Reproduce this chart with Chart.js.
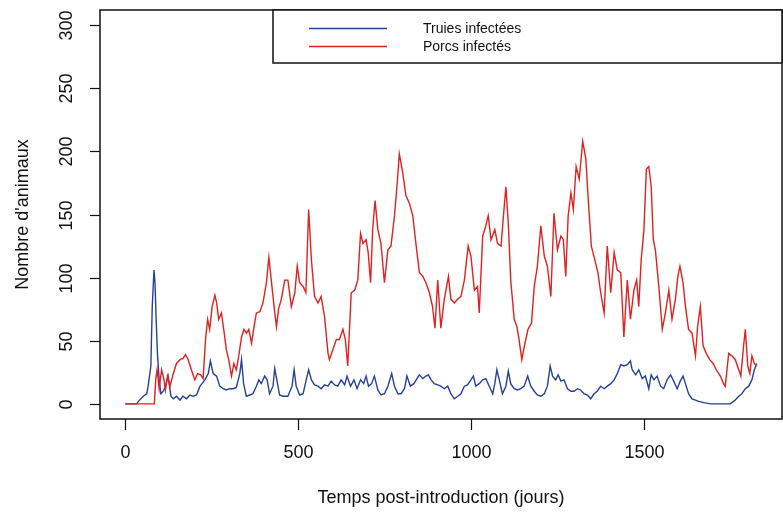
<!DOCTYPE html>
<html>
<head>
<meta charset="utf-8">
<script src="https://cdn.jsdelivr.net/npm/chart.js@4"></script>
<style>
  body { margin: 0; background: #fff; }
  #wrap { width: 783px; height: 514px; }
</style>
</head>
<body>
<div id="wrap"><canvas id="chart" width="783" height="514"></canvas></div>
<script>
// Truies infectées (sows)
var truiesDays = [0,33,38,52,62,66,74,78,83,86,89,93,98,103,110,116,124,132,139,148,158,167,177,187,196,206,216,222,230,240,246,254,264,273,283,292,302,312,321,331,336,342,350,360,369,379,386,393,403,410,417,427,432,440,446,456,466,
  470,482,488,494,504,514,523,530,538,547,557,566,576,586,595,605,614,624,634,641,651,661,670,680,689,696,703,712,720,730,739,749,759,770,778,788,797,807,814,824,834,843,850,860,869,876,884,893,903,912,922,932,941,951,
  961,970,980,989,999,1006,1013,1023,1033,1042,1052,1062,1068,1074,1081,1090,1100,1107,1114,1124,1134,1143,1153,1163,1172,1182,1191,1201,1211,1220,1228,1235,1244,1251,1259,1268,1278,1288,1297,1307,1316,1326,1336,1345,1355,1364,1374,1384,1393,1403,1413,1422,1432,1441,
  1451,1460,1465,1475,1484,1494,1503,1513,1520,1528,1537,1547,1556,1566,1576,1585,1595,1604,1612,1619,1628,1638,1648,1657,1672,1691,1749,1753,1763,1773,1782,1792,1802,1811,1818,1825];
var truiesValues = [0,0,2,6,8,14,30,77,106,96,69,40,19,8,10,14,22,6,4,6,3,6,4,7,6,7,14,16,19,24,34,24,22,14,12,11,12,12,13,24,35,16,6,7,8,14,19,16,22,19,8,14,28,16,7,6,6,
  6,14,27,14,7,8,19,27,19,15,14,12,15,14,18,15,14,19,15,22,14,19,12,19,16,22,14,16,22,11,7,8,14,24,14,8,8,12,22,14,16,20,23,20,22,23,19,16,15,14,12,14,8,4,
  6,8,14,15,19,22,14,16,19,20,14,8,16,27,19,8,14,26,16,12,11,12,14,22,14,10,7,6,8,14,30,22,19,23,18,19,12,10,10,12,11,8,7,4,8,10,14,12,14,16,19,24,31,30,
  31,34,27,23,27,20,22,12,23,19,22,14,12,19,23,18,12,18,22,16,8,4,3,2,1,0,0,1,3,6,8,12,14,19,27,32];

// Porcs infectés (pigs)
var porcsDays = [0,84,88,92,98,105,112,116,122,129,139,148,158,167,174,182,191,201,209,218,225,232,238,244,251,259,264,270,278,286,292,299,307,314,321,328,336,343,350,357,365,372,379,389,398,408,415,422,430,437,443,451,461,
  470,480,490,497,504,514,522,530,538,547,557,566,576,586,590,600,610,619,629,636,643,653,663,672,680,687,696,702,709,715,722,730,739,749,759,768,778,786,792,802,811,821,831,840,850,860,869,879,888,895,903,912,922,934,941,951,
  961,970,980,991,999,1009,1018,1023,1033,1042,1049,1057,1068,1076,1086,1093,1100,1107,1114,1124,1132,1138,1146,1155,1164,1174,1182,1191,1201,1211,1220,1230,1239,1249,1259,1266,1273,1280,1288,1295,1303,1312,1322,1331,1338,1347,1357,1366,1374,1384,1393,1403,1413,1422,1432,1441,
  1451,1460,1470,1478,1484,1491,1499,1506,1513,1520,1526,1532,1542,1552,1561,1571,1580,1590,1597,1603,1612,1619,1628,1638,1648,1654,1662,1670,1679,1689,1699,1708,1720,1729,1734,1744,1753,1763,1773,1779,1787,1792,1799,1805,1811,1818,1825];
var porcsValues = [0,0,19,27,12,27,19,11,22,14,24,32,35,36,39,35,27,19,24,23,20,51,67,59,77,86,80,67,72,56,43,35,22,32,27,38,53,59,56,59,48,61,72,73,80,96,116,98,77,61,75,83,98,
  98,77,88,109,96,93,88,154,114,85,80,85,69,40,35,43,51,51,59,51,30,88,90,98,135,127,130,120,96,138,161,138,127,96,122,125,149,175,198,183,165,159,149,127,104,101,96,88,77,60,98,60,83,101,83,80,
  83,85,98,125,117,90,93,72,133,141,149,130,138,127,125,149,172,143,98,67,61,51,35,48,59,64,93,109,141,117,109,85,151,122,133,130,101,149,167,154,188,178,208,194,162,125,114,104,88,72,125,88,120,106,104,53,
  98,67,90,98,77,114,138,186,188,172,130,122,93,59,72,90,67,83,101,109,96,77,59,56,38,61,77,46,40,35,32,27,22,16,14,40,38,35,27,22,46,59,30,24,38,32,30];

var xTicks = [0, 500, 1000, 1500];
var yTicks = [0, 50, 100, 150, 200, 250, 300];

var BLUE = '#27409b';
var RED = '#e3201f';
var FONT = '"Liberation Sans", Arial, sans-serif';

function toPoints(xs, ys) {
    var out = [];
    for (var i = 0; i < xs.length; i++) out.push({x: xs[i], y: ys[i]});
    return out;
}

// R-style box, axes, titles and legend drawn on top of the library's scales
var rAxes = {
    id: 'rAxes',
    afterDraw: function(chart) {
        var ctx = chart.ctx, a = chart.chartArea;
        var xs = chart.scales.x, ys = chart.scales.y;
        ctx.save();
        ctx.strokeStyle = '#111';
        ctx.lineWidth = 1.5;
        ctx.strokeRect(a.left, a.top, a.right - a.left, a.bottom - a.top);

        ctx.fillStyle = '#111';
        ctx.font = '18px ' + FONT;
        ctx.lineWidth = 1.2;

        // x axis
        ctx.textAlign = 'center';
        ctx.textBaseline = 'middle';
        xTicks.forEach(function(v) {
            var px = Math.round(xs.getPixelForValue(v)) + 0.5;
            ctx.beginPath();
            ctx.moveTo(px, a.bottom);
            ctx.lineTo(px, a.bottom + 11);
            ctx.stroke();
            ctx.fillText(String(v), px, 453);
        });

        // y axis
        yTicks.forEach(function(v) {
            var py = Math.round(ys.getPixelForValue(v)) + 0.5;
            ctx.beginPath();
            ctx.moveTo(a.left, py);
            ctx.lineTo(a.left - 10, py);
            ctx.stroke();
            ctx.save();
            ctx.translate(67, py);
            ctx.rotate(-Math.PI / 2);
            ctx.fillText(String(v), 0, 0);
            ctx.restore();
        });

        // axis titles
        ctx.fillText('Temps post-introduction (jours)', (a.left + a.right) / 2, 498);
        ctx.save();
        ctx.translate(23, (a.top + a.bottom) / 2);
        ctx.rotate(-Math.PI / 2);
        ctx.fillText("Nombre d'animaux", 0, 0);
        ctx.restore();

        // legend
        ctx.fillStyle = '#fff';
        ctx.fillRect(273, a.top, a.right - 273, 53);
        ctx.strokeStyle = '#111';
        ctx.lineWidth = 1.5;
        ctx.strokeRect(273, a.top, a.right - 273, 53);
        var items = [['Truies infectées', BLUE, 28.5], ['Porcs infectés', RED, 46.5]];
        ctx.font = '14px ' + FONT;
        ctx.textAlign = 'left';
        items.forEach(function(it) {
            ctx.strokeStyle = it[1];
            ctx.lineWidth = 1.5;
            ctx.beginPath();
            ctx.moveTo(309, it[2]);
            ctx.lineTo(387, it[2]);
            ctx.stroke();
            ctx.fillStyle = '#111';
            ctx.fillText(it[0], 423, it[2] + 1);
        });
        ctx.restore();
    }
};

function init() {
    var ctx = document.getElementById('chart').getContext('2d');
    new Chart(ctx, {
        type: 'line',
        data: {
            datasets: [{
                label: 'Truies infectées',
                data: toPoints(truiesDays, truiesValues),
                borderColor: BLUE,
                borderWidth: 1.4,
                pointRadius: 0,
                order: 1
            }, {
                label: 'Porcs infectés',
                data: toPoints(porcsDays, porcsValues),
                borderColor: RED,
                borderWidth: 1.4,
                pointRadius: 0,
                order: 0
            }]
        },
        options: {
            responsive: false,
            animation: false,
            layout: { padding: { left: 100, top: 10, right: 1, bottom: 95 } },
            scales: {
                x: { type: 'linear', min: -73, max: 1898, display: false },
                y: { type: 'linear', min: -12, max: 312, display: false }
            },
            plugins: {
                legend: { display: false },
                tooltip: { enabled: false }
            }
        },
        plugins: [rAxes]
    });
}

window.onload = init;
</script>
</body>
</html>
